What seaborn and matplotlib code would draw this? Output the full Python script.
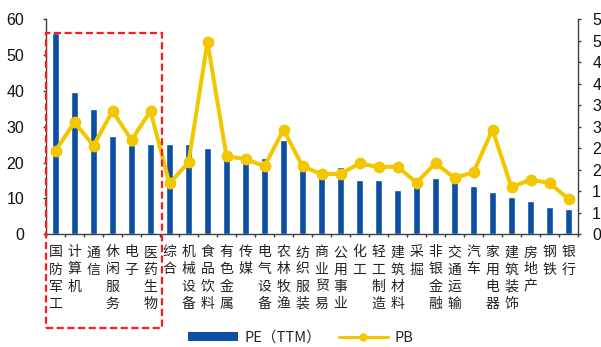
import numpy as np
import pandas as pd
import matplotlib
matplotlib.use("Agg")
import matplotlib.pyplot as plt
from matplotlib.patches import Rectangle, Patch
from matplotlib.lines import Line2D
import seaborn as sns

# 申万一级行业估值：PE(TTM) 与 PB
industries = ["国防军工", "计算机", "通信", "休闲服务", "电子", "医药生物", "综合",
              "机械设备", "食品饮料", "有色金属", "传媒", "电气设备", "农林牧渔",
              "纺织服装", "商业贸易", "公用事业", "化工", "轻工制造", "建筑材料",
              "采掘", "非银金融", "交通运输", "汽车", "家用电器", "建筑装饰",
              "房地产", "钢铁", "银行"]
pe_ttm = [56.0, 39.6, 34.8, 27.3, 25.0, 25.2, 25.2, 25.1, 24.1, 22.5, 20.3, 21.4,
          26.3, 18.6, 17.0, 18.8, 15.0, 15.0, 12.3, 13.7, 15.6, 14.6, 13.5, 11.9,
          10.3, 9.2, 7.6, 7.1]
pb = [1.94, 2.60, 2.06, 2.86, 2.19, 2.86, 1.18, 1.67, 4.47, 1.81, 1.75, 1.58,
      2.43, 1.58, 1.40, 1.40, 1.65, 1.56, 1.57, 1.20, 1.65, 1.31, 1.44, 2.43,
      1.09, 1.27, 1.19, 0.82]
highlighted = 6  # 前六个行业用虚线框标出

pe_ticks = [0, 10, 20, 30, 40, 50, 60]
pb_ticks = [0, 0.5, 1, 1.5, 2, 2.5, 3, 3.5, 4, 4.5, 5]
pb_tick_labels = ["0", "1", "1", "2", "2", "3", "3", "4", "4", "5", "5"]

BAR_BLUE = "#0B4EA2"
LINE_GOLD = "#F2C700"
AXIS_GREY = "#404040"

sns.set_theme(style="white")
plt.rcParams["font.family"] = ["Noto Sans CJK SC", "DejaVu Sans"]
plt.rcParams["axes.unicode_minus"] = False

df = pd.DataFrame({"industry": industries, "pe": pe_ttm, "pb": pb})
df["pos"] = np.arange(len(df))

fig = plt.figure(figsize=(6.01, 3.47), dpi=100)
W, H = 601, 347
ax = fig.add_axes([46 / W, 1 - 234.3 / H, (578 - 46) / W, (234.3 - 19) / H])

sns.barplot(data=df, x="industry", y="pe", ax=ax, color=BAR_BLUE,
            saturation=1, width=0.38, zorder=2)
ax.set_ylim(0, 60)
ax.set_xlim(-0.5, len(df) - 0.5)
ax.set_xlabel("")
ax.set_ylabel("")

ax2 = ax.twinx()
sns.lineplot(data=df, x="pos", y="pb", ax=ax2, color=LINE_GOLD, linewidth=2.9,
             marker="o", markersize=8.5, markeredgewidth=0, zorder=3)
ax2.set_ylim(0, 5)
ax2.set_xlim(-0.5, len(df) - 0.5)
ax2.set_xlabel("")
ax2.set_ylabel("")

# 坐标轴样式
for a in (ax, ax2):
    a.spines["top"].set_visible(False)
    for s in ("left", "right", "bottom"):
        a.spines[s].set_color(AXIS_GREY)
        a.spines[s].set_linewidth(1.0)
ax.spines["right"].set_visible(False)
ax2.spines["left"].set_visible(False)
ax2.spines["bottom"].set_visible(False)

num_font = dict(family="Liberation Sans", size=11.5, color="#111111")

ax.set_yticks(pe_ticks)
ax.set_yticklabels([str(v) for v in pe_ticks], fontdict=num_font)
ax.tick_params(axis="y", direction="out", length=2.2, width=1, color=AXIS_GREY,
               pad=13.5, left=True)

ax2.set_yticks(pb_ticks)
ax2.set_yticklabels(pb_tick_labels, fontdict=num_font)
ax2.tick_params(axis="y", direction="out", length=2.2, width=1, color=AXIS_GREY,
                pad=8.0, right=True)

# 行业名称竖排，刻度线放在类别分界处
ax.set_xticks(df["pos"])
ax.set_xticklabels(["\n".join(name) for name in industries],
                   fontsize=10, color="#222222", linespacing=1.28,
                   va="top", ha="center")
ax.tick_params(axis="x", which="major", length=0, pad=8)
ax.set_xticks(np.arange(len(df) + 1) - 0.5, minor=True)
ax.tick_params(axis="x", which="minor", direction="out", length=2.2, width=1,
               color=AXIS_GREY, bottom=True)
ax2.tick_params(axis="x", which="both", length=0, labelbottom=False)

# 红色虚线框
frame = Rectangle((-0.5, -26.1), highlighted + 0.1, pe_ttm[0] + 26.1,
                  fill=False, edgecolor="#FF1A1A", linewidth=1.6,
                  linestyle=(0, (3.2, 1.6)), clip_on=False, zorder=5)
ax2.add_patch(frame)
frame.set_transform(ax.transData)

# 图例
handles = [Patch(facecolor=BAR_BLUE, edgecolor="none"),
           Line2D([], [], color=LINE_GOLD, linewidth=2.2, marker="o",
                  markersize=6, markeredgewidth=0)]
fig.legend(handles, ["PE（TTM）", "PB"], loc="center", ncol=2,
           bbox_to_anchor=(301 / W, 1 - 338 / H), frameon=False,
           fontsize=10.5, handlelength=3.4, handleheight=0.6,
           handletextpad=0.45, columnspacing=1.2)

fig.savefig("out.png", dpi=100)
